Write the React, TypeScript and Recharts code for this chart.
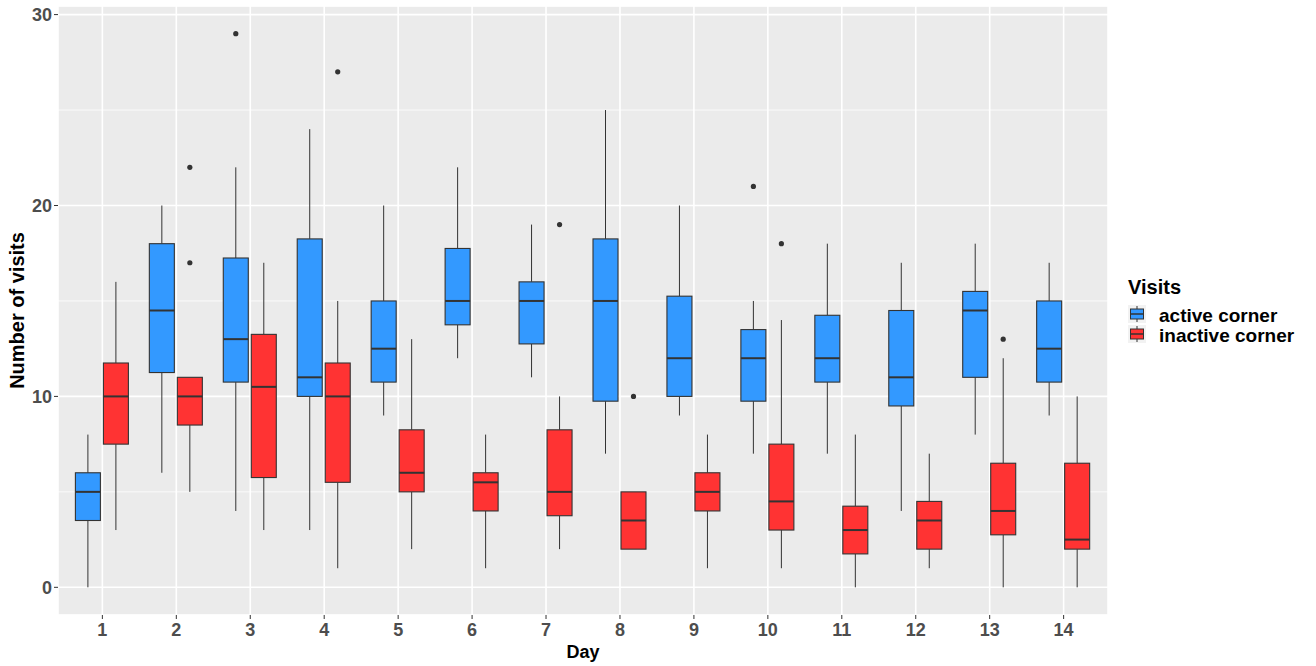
import { ComposedChart, Bar, XAxis, YAxis, CartesianGrid } from 'recharts';

// days on the x axis
const days = ['1', '2', '3', '4', '5', '6', '7', '8', '9', '10', '11', '12', '13', '14'];

// active corner: whisker ends, quartiles, medians, outliers
const activeLow = [0, 6, 4, 3, 9, 12, 11, 7, 9, 7, 7, 4, 8, 9];
const activeQ1 = [3.5, 11.25, 10.75, 10, 10.75, 13.75, 12.75, 9.75, 10, 9.75, 10.75, 9.5, 11, 10.75];
const activeMedian = [5, 14.5, 13, 11, 12.5, 15, 15, 15, 12, 12, 12, 11, 14.5, 12.5];
const activeQ3 = [6, 18, 17.25, 18.25, 15, 17.75, 16, 18.25, 15.25, 13.5, 14.25, 14.5, 15.5, 15];
const activeHigh = [8, 20, 22, 24, 20, 22, 19, 25, 20, 15, 18, 17, 18, 17];
const activeOutliers = [[], [], [29], [], [], [], [], [], [], [21], [], [], [], []];

// inactive corner
const inactiveLow = [3, 5, 3, 1, 2, 1, 2, 2, 1, 1, 0, 1, 0, 0];
const inactiveQ1 = [7.5, 8.5, 5.75, 5.5, 5, 4, 3.75, 2, 4, 3, 1.75, 2, 2.75, 2];
const inactiveMedian = [10, 10, 10.5, 10, 6, 5.5, 5, 3.5, 5, 4.5, 3, 3.5, 4, 2.5];
const inactiveQ3 = [11.75, 11, 13.25, 11.75, 8.25, 6, 8.25, 5, 6, 7.5, 4.25, 4.5, 6.5, 6.5];
const inactiveHigh = [16, 11, 17, 15, 13, 8, 10, 5, 8, 14, 8, 7, 12, 10];
const inactiveOutliers = [[], [17, 22], [], [27], [], [], [19], [10], [], [18], [], [], [13], []];

const yTicks = [0, 10, 20, 30];
const yMinorTicks = [5, 15, 25];

const font = '"Liberation Sans", Arial, sans-serif';
const blue = '#3399FF';
const red = '#FF3333';
const ink = '#333333';

const data = days.map((day, i) => ({
  day,
  active: [activeQ1[i], activeQ3[i]],
  inactive: [inactiveQ1[i], inactiveQ3[i]],
  activeStats: { low: activeLow[i], q1: activeQ1[i], med: activeMedian[i], q3: activeQ3[i], high: activeHigh[i], out: activeOutliers[i] },
  inactiveStats: { low: inactiveLow[i], q1: inactiveQ1[i], med: inactiveMedian[i], q3: inactiveQ3[i], high: inactiveHigh[i], out: inactiveOutliers[i] },
}));

// box drawn from the bar's Q1..Q3 rectangle; other values use the same pixel scale
const makeBox = (key: string, fill: string) => (props: any) => {
  const { x, y, width, height, payload } = props;
  const s = payload[key + 'Stats'];
  const top = Math.min(y, y + height);
  const h = Math.abs(height);
  const bottom = top + h;
  const ppu = h / (s.q3 - s.q1);
  const py = (v: number) => bottom - (v - s.q1) * ppu;
  const cx = x + width / 2;
  return (
    <g>
      <line x1={cx} x2={cx} y1={py(s.high)} y2={top} stroke={ink} strokeWidth={1} />
      <line x1={cx} x2={cx} y1={bottom} y2={py(s.low)} stroke={ink} strokeWidth={1} />
      <rect x={x} y={top} width={width} height={h} fill={fill} stroke={ink} strokeWidth={1.1} />
      <line x1={x} x2={x + width} y1={py(s.med)} y2={py(s.med)} stroke={ink} strokeWidth={2} />
      {s.out.map((o: number, j: number) => (
        <circle key={j} cx={cx} cy={py(o)} r={2.6} fill={ink} />
      ))}
    </g>
  );
};

const LegendKey = ({ y, fill }: { y: number; fill: string }) => (
  <g>
    <rect x={8} y={y} width={18} height={18} fill="#F2F2F2" />
    <line x1={17} x2={17} y1={y + 1} y2={y + 17} stroke={ink} strokeWidth={1} />
    <rect x={10.5} y={y + 4} width={13} height={10} fill={fill} stroke={ink} strokeWidth={1} />
    <line x1={10.5} x2={23.5} y1={y + 9} y2={y + 9} stroke={ink} strokeWidth={1.5} />
  </g>
);

export default function App() {
  return (
    <div style={{ position: 'absolute', left: 0, top: 0, width: 1316, height: 666, fontFamily: font }}>
      <ComposedChart
        width={1316}
        height={666}
        data={data}
        margin={{ top: 6, right: 208, bottom: 0, left: 0 }}
        barSize={25}
        barGap={3}
      >
        <CartesianGrid fill="#EBEBEB" stroke="#FFFFFF" strokeWidth={1.6} />
        <CartesianGrid yAxisId="minor" vertical={false} stroke="#FFFFFF" strokeWidth={0.8} />
        <XAxis
          dataKey="day"
          height={51}
          padding={{ left: 7.4, right: 7.4 }}
          axisLine={false}
          tickSize={4}
          tickMargin={4}
          tickLine={{ stroke: ink }}
          tick={{ fill: '#4D4D4D', fontSize: 18, fontWeight: 'bold', fontFamily: font }}
          label={{ value: 'Day', position: 'insideBottom', offset: 8, fill: '#000', fontSize: 18, fontWeight: 'bold', fontFamily: font }}
        />
        <YAxis
          type="number"
          width={58}
          domain={[-1.45, 30.45]}
          ticks={yTicks}
          allowDataOverflow
          axisLine={false}
          tickSize={4}
          tickMargin={2}
          tickLine={{ stroke: ink }}
          tick={{ fill: '#4D4D4D', fontSize: 18, fontWeight: 'bold', fontFamily: font }}
          label={{ value: 'Number of visits', angle: -90, position: 'insideLeft', offset: 17, fill: '#000', fontSize: 20, fontWeight: 'bold', fontFamily: font, style: { textAnchor: 'middle' } }}
        />
        <YAxis yAxisId="minor" type="number" hide domain={[-1.45, 30.45]} ticks={yMinorTicks} allowDataOverflow />
        <Bar dataKey="active" name="active corner" fill={blue} shape={makeBox('active', blue)} isAnimationActive={false} />
        <Bar dataKey="inactive" name="inactive corner" fill={red} shape={makeBox('inactive', red)} isAnimationActive={false} />
      </ComposedChart>
      <svg width={196} height={90} style={{ position: 'absolute', left: 1120, top: 270 }}>
        <text x={8} y={24} fontSize={20} fontWeight="bold" fill="#000" fontFamily={font}>Visits</text>
        <LegendKey y={35} fill={blue} />
        <LegendKey y={55} fill={red} />
        <text x={39} y={52} fontSize={19} fontWeight="bold" fill="#000" fontFamily={font}>active corner</text>
        <text x={39} y={72} fontSize={19} fontWeight="bold" fill="#000" fontFamily={font}>inactive corner</text>
      </svg>
    </div>
  );
}
